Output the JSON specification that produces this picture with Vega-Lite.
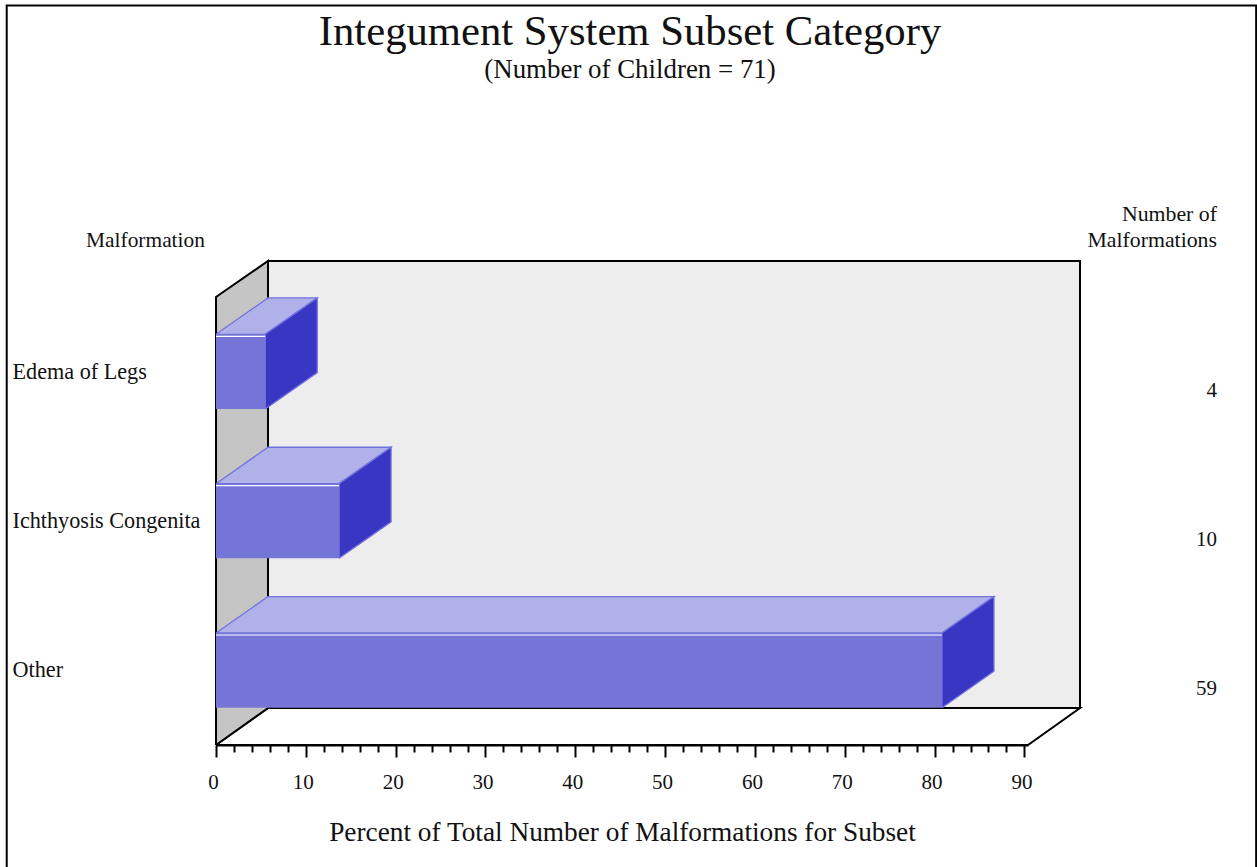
{
  "$schema": "https://vega.github.io/schema/vega-lite/v6.json",
  "width": 812,
  "height": 448,
  "padding": {"left": 216, "top": 297, "right": 229, "bottom": 122},
  "autosize": "none",
  "background": "white",
  "config": {"view": {"stroke": null}, "font": "Liberation Serif"},
  "title": {
    "text": "Integument System Subset Category",
    "subtitle": "(Number of Children = 71)",
    "font": "Liberation Serif",
    "subtitleFont": "Liberation Serif",
    "fontSize": 42.7,
    "fontWeight": "normal",
    "subtitleFontSize": 26.9,
    "color": "#111111",
    "subtitleColor": "#111111",
    "anchor": "middle",
    "frame": "group",
    "dx": 8,
    "offset": -81
  },
  "datasets": {
    "bars": [
      {"malformation": "Edema of Legs", "percent": 5.48, "count": 4},
      {"malformation": "Ichthyosis Congenita", "percent": 13.70, "count": 10},
      {"malformation": "Other", "percent": 80.82, "count": 59}
    ],
    "faces": [
      {"face": "frame", "id": "frame", "seq": 0, "pct": -23.3, "level": -0.9},
      {"face": "frame", "id": "frame", "seq": 1, "pct": -23.3, "level": 4.952},
      {"face": "frame", "id": "frame", "seq": 2, "pct": 115.8, "level": 4.952},
      {"face": "frame", "id": "frame", "seq": 3, "pct": 115.8, "level": -0.9},
      {"face": "floor", "id": "floor", "seq": 0, "pct": 0, "level": 0},
      {"face": "floor", "id": "floor", "seq": 1, "pct": 90.4, "level": 0},
      {"face": "floor", "id": "floor", "seq": 2, "pct": 96.19, "level": 0.248},
      {"face": "floor", "id": "floor", "seq": 3, "pct": 5.79, "level": 0.248},
      {"face": "floor", "id": "floor", "seq": 4, "pct": 0, "level": 0},
      {"face": "side wall", "id": "side wall", "seq": 0, "pct": 0, "level": 0},
      {"face": "side wall", "id": "side wall", "seq": 1, "pct": 0, "level": 3},
      {"face": "side wall", "id": "side wall", "seq": 2, "pct": 5.79, "level": 3.241},
      {"face": "side wall", "id": "side wall", "seq": 3, "pct": 5.79, "level": 0.248},
      {"face": "side wall", "id": "side wall", "seq": 4, "pct": 0, "level": 0},
      {"face": "back wall", "id": "back wall", "seq": 0, "pct": 5.79, "level": 0.248},
      {"face": "back wall", "id": "back wall", "seq": 1, "pct": 5.79, "level": 3.241},
      {"face": "back wall", "id": "back wall", "seq": 2, "pct": 96.19, "level": 3.241},
      {"face": "back wall", "id": "back wall", "seq": 3, "pct": 96.19, "level": 0.248},
      {"face": "back wall", "id": "back wall", "seq": 4, "pct": 5.79, "level": 0.248},
      {"face": "top", "id": "Edema of Legs", "seq": 0, "pct": 0, "level": 2.75},
      {"face": "top", "id": "Edema of Legs", "seq": 1, "pct": 5.48, "level": 2.75},
      {"face": "top", "id": "Edema of Legs", "seq": 2, "pct": 11.27, "level": 2.994},
      {"face": "top", "id": "Edema of Legs", "seq": 3, "pct": 5.79, "level": 2.994},
      {"face": "top", "id": "Edema of Legs", "seq": 4, "pct": 0, "level": 2.75},
      {"face": "top", "id": "Ichthyosis Congenita", "seq": 0, "pct": 0, "level": 1.75},
      {"face": "top", "id": "Ichthyosis Congenita", "seq": 1, "pct": 13.70, "level": 1.75},
      {"face": "top", "id": "Ichthyosis Congenita", "seq": 2, "pct": 19.49, "level": 1.994},
      {"face": "top", "id": "Ichthyosis Congenita", "seq": 3, "pct": 5.79, "level": 1.994},
      {"face": "top", "id": "Ichthyosis Congenita", "seq": 4, "pct": 0, "level": 1.75},
      {"face": "top", "id": "Other", "seq": 0, "pct": 0, "level": 0.75},
      {"face": "top", "id": "Other", "seq": 1, "pct": 80.82, "level": 0.75},
      {"face": "top", "id": "Other", "seq": 2, "pct": 86.61, "level": 0.994},
      {"face": "top", "id": "Other", "seq": 3, "pct": 5.79, "level": 0.994},
      {"face": "top", "id": "Other", "seq": 4, "pct": 0, "level": 0.75},
      {"face": "end", "id": "Edema of Legs", "seq": 0, "pct": 5.48, "level": 2.25},
      {"face": "end", "id": "Edema of Legs", "seq": 1, "pct": 5.48, "level": 2.75},
      {"face": "end", "id": "Edema of Legs", "seq": 2, "pct": 11.27, "level": 2.994},
      {"face": "end", "id": "Edema of Legs", "seq": 3, "pct": 11.27, "level": 2.494},
      {"face": "end", "id": "Edema of Legs", "seq": 4, "pct": 5.48, "level": 2.25},
      {"face": "end", "id": "Ichthyosis Congenita", "seq": 0, "pct": 13.70, "level": 1.25},
      {"face": "end", "id": "Ichthyosis Congenita", "seq": 1, "pct": 13.70, "level": 1.75},
      {"face": "end", "id": "Ichthyosis Congenita", "seq": 2, "pct": 19.49, "level": 1.994},
      {"face": "end", "id": "Ichthyosis Congenita", "seq": 3, "pct": 19.49, "level": 1.494},
      {"face": "end", "id": "Ichthyosis Congenita", "seq": 4, "pct": 13.70, "level": 1.25},
      {"face": "end", "id": "Other", "seq": 0, "pct": 80.82, "level": 0.25},
      {"face": "end", "id": "Other", "seq": 1, "pct": 80.82, "level": 0.75},
      {"face": "end", "id": "Other", "seq": 2, "pct": 86.61, "level": 0.994},
      {"face": "end", "id": "Other", "seq": 3, "pct": 86.61, "level": 0.494},
      {"face": "end", "id": "Other", "seq": 4, "pct": 80.82, "level": 0.25}
    ]
  },
  "resolve": {"scale": {"y": "independent"}, "axis": {"x": "independent", "y": "independent"}},
  "layer": [
    {
      "data": {"name": "faces"},
      "transform": [{"filter": "datum.face === 'frame'"}],
      "mark": {"type": "line", "stroke": "black", "strokeWidth": 2, "clip": false},
      "encoding": {
        "x": {"field": "pct", "type": "quantitative", "scale": {"domain": [0, 90.4], "nice": false, "zero": false}, "axis": null},
        "y": {"field": "level", "type": "quantitative", "scale": {"domain": [0, 3], "nice": false, "zero": false}, "axis": null},
        "order": {"field": "seq", "type": "quantitative"}
      }
    },
    {
      "data": {"name": "faces"},
      "transform": [{"filter": "datum.face === 'floor'"}],
      "mark": {"type": "line", "fill": "white", "stroke": "black", "strokeWidth": 2},
      "encoding": {
        "x": {"field": "pct", "type": "quantitative", "scale": {"domain": [0, 90.4], "nice": false, "zero": false}, "axis": null},
        "y": {"field": "level", "type": "quantitative", "scale": {"domain": [0, 3], "nice": false, "zero": false}, "axis": null},
        "order": {"field": "seq", "type": "quantitative"}
      }
    },
    {
      "data": {"name": "faces"},
      "transform": [{"filter": "datum.face === 'side wall'"}],
      "mark": {"type": "line", "fill": "#c5c5c5", "stroke": "black", "strokeWidth": 2},
      "encoding": {
        "x": {"field": "pct", "type": "quantitative", "scale": {"domain": [0, 90.4], "nice": false, "zero": false}, "axis": null},
        "y": {"field": "level", "type": "quantitative", "scale": {"domain": [0, 3], "nice": false, "zero": false}, "axis": null},
        "order": {"field": "seq", "type": "quantitative"}
      }
    },
    {
      "data": {"name": "faces"},
      "transform": [{"filter": "datum.face === 'back wall'"}],
      "mark": {"type": "line", "fill": "#ededed", "stroke": "black", "strokeWidth": 2},
      "encoding": {
        "x": {"field": "pct", "type": "quantitative", "scale": {"domain": [0, 90.4], "nice": false, "zero": false}, "axis": null},
        "y": {"field": "level", "type": "quantitative", "scale": {"domain": [0, 3], "nice": false, "zero": false}, "axis": null},
        "order": {"field": "seq", "type": "quantitative"}
      }
    },
    {
      "data": {"name": "faces"},
      "transform": [{"filter": "datum.face === 'top'"}],
      "mark": {"type": "line", "fill": "#b1b1ea", "stroke": "#7272de", "strokeWidth": 1.3},
      "encoding": {
        "x": {"field": "pct", "type": "quantitative", "scale": {"domain": [0, 90.4], "nice": false, "zero": false}, "axis": null},
        "y": {"field": "level", "type": "quantitative", "scale": {"domain": [0, 3], "nice": false, "zero": false}, "axis": null},
        "detail": {"field": "id", "type": "nominal"},
        "order": {"field": "seq", "type": "quantitative"}
      }
    },
    {
      "data": {"name": "faces"},
      "transform": [{"filter": "datum.face === 'end'"}],
      "mark": {"type": "line", "fill": "#3a36c4", "stroke": "#7272de", "strokeWidth": 1.3},
      "encoding": {
        "x": {"field": "pct", "type": "quantitative", "scale": {"domain": [0, 90.4], "nice": false, "zero": false}, "axis": null},
        "y": {"field": "level", "type": "quantitative", "scale": {"domain": [0, 3], "nice": false, "zero": false}, "axis": null},
        "detail": {"field": "id", "type": "nominal"},
        "order": {"field": "seq", "type": "quantitative"}
      }
    },
    {
      "data": {"name": "bars"},
      "mark": {"type": "bar", "color": "#7575d8"},
      "encoding": {
        "x": {
          "field": "percent", "type": "quantitative",
          "scale": {"domain": [0, 90.4], "nice": false, "zero": false},
          "axis": {
            "orient": "bottom",
            "title": "Percent of Total Number of Malformations for Subset",
            "titleFont": "Liberation Serif", "titleFontSize": 27.3, "titleFontWeight": "normal", "titleColor": "#111111", "titlePadding": 26,
            "values": [0, 10, 20, 30, 40, 50, 60, 70, 80, 90],
            "tickSize": 12, "tickWidth": 2, "tickColor": "black",
            "domainWidth": 2, "domainColor": "black",
            "labelFont": "Liberation Serif", "labelFontSize": 21, "labelColor": "#111111", "labelPadding": 14, "labelOffset": -3,
            "labelFlush": false, "grid": false
          }
        },
        "y": {
          "field": "malformation", "type": "nominal", "sort": ["Edema of Legs", "Ichthyosis Congenita", "Other"],
          "scale": {"paddingInner": 0.5, "paddingOuter": 0.25},
          "axis": {
            "title": "Malformation",
            "titleFont": "Liberation Serif", "titleFontSize": 21.4, "titleFontWeight": "normal", "titleColor": "#111111",
            "titleAngle": 0, "titleX": -71, "titleY": -51, "titleAlign": "center", "titleBaseline": "alphabetic",
            "domain": false, "ticks": false,
            "labelAlign": "left", "labelPadding": 204, "labelAngle": 0,
            "labelFont": "Liberation Serif", "labelFontSize": 22.2, "labelColor": "#111111", "labelLimit": 260
          }
        }
      }
    },
    {
      "data": {"name": "bars"},
      "mark": {"type": "rule", "color": "white", "strokeWidth": 1.2, "yOffset": 2},
      "encoding": {
        "x": {
          "field": "percent", "type": "quantitative",
          "scale": {"domain": [0, 90.4], "nice": false, "zero": false},
          "axis": {
            "orient": "bottom",
            "values": [2, 4, 6, 8, 12, 14, 16, 18, 22, 24, 26, 28, 32, 34, 36, 38, 42, 44, 46, 48, 52, 54, 56, 58, 62, 64, 66, 68, 72, 74, 76, 78, 82, 84, 86, 88],
            "tickSize": 7, "tickWidth": 2, "tickColor": "black",
            "domain": false, "labels": false, "title": null, "grid": false
          }
        },
        "x2": {"datum": 0},
        "y": {
          "field": "malformation", "type": "nominal", "bandPosition": 0, "sort": ["Edema of Legs", "Ichthyosis Congenita", "Other"],
          "scale": {"paddingInner": 0.5, "paddingOuter": 0.25},
          "axis": null
        }
      }
    },
    {
      "data": {"name": "bars"},
      "mark": {"type": "text", "font": "Liberation Serif", "fontSize": 21, "align": "right", "baseline": "middle", "color": "#111111", "yOffset": 19},
      "encoding": {
        "x": {"datum": 111.44, "type": "quantitative", "scale": {"domain": [0, 90.4], "nice": false, "zero": false}, "axis": null},
        "y": {
          "field": "malformation", "type": "nominal", "sort": ["Edema of Legs", "Ichthyosis Congenita", "Other"],
          "scale": {"paddingInner": 0.5, "paddingOuter": 0.25},
          "axis": null
        },
        "text": {"field": "count", "type": "quantitative"}
      }
    },
    {
      "data": {"values": [{"caption": "counts"}]},
      "mark": {
        "type": "text", "font": "Liberation Serif", "fontSize": 21.8, "align": "right", "baseline": "alphabetic", "color": "#111111",
        "lineHeight": 26, "text": ["Number of\u2009", "Malformations"]
      },
      "encoding": {
        "x": {"datum": 111.44, "type": "quantitative", "scale": {"domain": [0, 90.4], "nice": false, "zero": false}, "axis": null},
        "y": {"datum": 3.509, "type": "quantitative", "scale": {"domain": [0, 3], "nice": false, "zero": false}, "axis": null}
      }
    }
  ]
}
